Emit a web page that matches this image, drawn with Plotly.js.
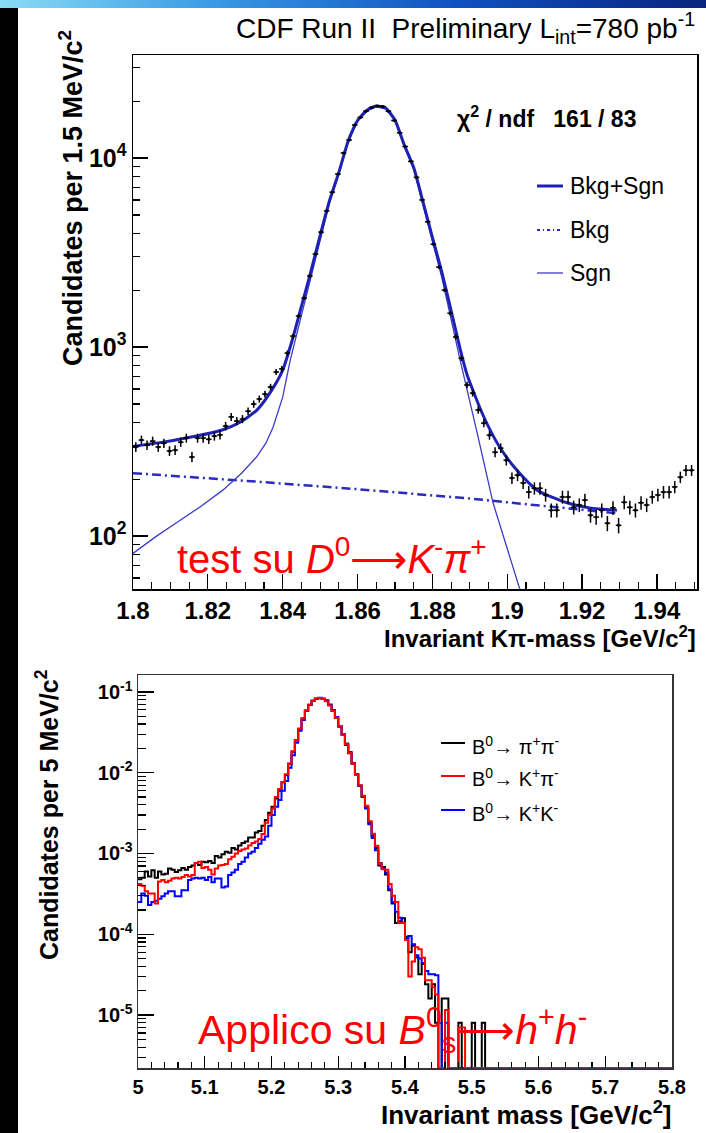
<!DOCTYPE html>
<html><head><meta charset="utf-8">
<script src="https://cdn.plot.ly/plotly-3.0.1.min.js"></script>
<style>
html,body{margin:0;padding:0;background:#fff;}
#wrap{position:relative;width:706px;height:1133px;overflow:hidden;}
#plot{position:absolute;left:0;top:0;width:706px;height:1133px;}
#leftbar{position:absolute;left:0;top:0;width:18px;height:1133px;background:#000;z-index:5;}
#topbar{position:absolute;left:0;top:0;width:706px;height:8px;background:linear-gradient(to right,#8adcf4 0%,#3a9ae4 30%,#1050c0 65%,#08247e 100%);z-index:6;}
</style></head><body>
<div id="wrap"><div id="plot"></div><div id="leftbar"></div><div id="topbar"></div></div>
<script>
// ---------------- Top panel: D0 -> K pi invariant mass ----------------
const d0Start = 1.8, d0BinWidth = 0.0015;
const d0Counts = [
 296,322,303,318,296,310,282,285,314,330,
 262,330,330,325,338,343,382,427,406,416,
 458,499,531,564,614,738,766,929,1143,1459,
 1815,2376,3105,4055,5250,6600,8225,10630,12450,14950,
 16400,17700,18500,18850,18750,17700,15800,13600,11500,9600,
 7900,6000,4600,3500,2650,2000,1510,1130,872,630,
 571,465,396,342,278,292,252,203,210,191,
 171,179,179,165,137,137,161,161,142,146,
 155,129,126,137,117,141,114,151,142,137,
 150,146,161,165,171,171,182,205,223,223];
const fitX = [1.8,1.808,1.817,1.824,1.8286,1.8331,1.8366,1.840,1.8425,1.845,1.8475,1.85,1.8525,1.855,1.8575,1.86,1.8625,1.865,1.8675,1.87,1.8725,1.875,1.8775,1.88,1.8825,1.885,1.8875,1.8892,1.8935,1.898,1.9026,1.908,1.916,1.922,1.9293];
const fitTotal = [298,314,338,365,400,464,572,755,1080,1640,2500,3900,5950,8400,12300,15800,17900,18850,18400,15900,11700,8900,5850,3800,2500,1560,960,720,437,295,223,175,150,141,137];
const sgnX = [1.8,1.806,1.812,1.818,1.824,1.829,1.833,1.8355,1.8374,1.840,1.842,1.845,1.8475,1.85,1.8525,1.855,1.8575,1.86,1.8625,1.865,1.8675,1.87,1.8725,1.875,1.8775,1.88,1.8825,1.885,1.8874,1.8919,1.8962,1.9034];
const sgnY = [81,99,119,143,175,215,262,310,375,543,851,1460,2320,3720,5760,8220,12120,15620,17720,18670,18220,15720,11520,8720,5670,3630,2340,1400,853,356,150,52];
const bkgX = [1.8,1.83,1.86,1.89,1.9293];
const bkgY = [215,196,177,158,132];
const topXTickVals = [1.8,1.82,1.84,1.86,1.88,1.9,1.92,1.94];
const topXTickText = ['1.8','1.82','1.84','1.86','1.88','1.9','1.92','1.94'];
const topYTickVals = [100,1000,10000];
const topYTickText = ['10<sup>2</sup>','10<sup>3</sup>','10<sup>4</sup>'];

// ---------------- Bottom panel: B0 -> h+h- invariant mass ----------------
const bStart = 5.0, bBinWidth = 0.005;
const pipi = [
 4.8e-4,5.0e-4,6.0e-4,5.2e-4,6.2e-4,5.0e-4,6.0e-4,5.5e-4,5.6e-4,6.5e-4,
 6.3e-4,5.9e-4,6.2e-4,6.6e-4,6.3e-4,6.8e-4,7.1e-4,7.6e-4,7.2e-4,7.9e-4,
 7.8e-4,8.1e-4,7.6e-4,9.3e-4,8.9e-4,9.8e-4,1.05e-3,1.02e-3,1.17e-3,1.12e-3,
 1.26e-3,1.35e-3,1.41e-3,1.58e-3,1.58e-3,1.82e-3,1.9e-3,2.2e-3,2.6e-3,3.2e-3,
 3.8e-3,4.8e-3,6.0e-3,7.6e-3,9.3e-3,1.29e-2,1.82e-2,2.5e-2,3.5e-2,4.7e-2,
 5.9e-2,6.9e-2,7.8e-2,8.2e-2,8.4e-2,8.2e-2,7.8e-2,6.9e-2,5.8e-2,4.8e-2,
 3.7e-2,2.95e-2,2.2e-2,1.74e-2,1.29e-2,9.5e-3,6.9e-3,5.1e-3,3.8e-3,2.4e-3,
 1.66e-3,1.17e-3,7.1e-4,6.8e-4,5.5e-4,3.5e-4,2.4e-4,1.38e-4,1.45e-4,1.58e-4,
 9.3e-5,6.0e-5,7.2e-5,5.2e-5,3.2e-5,4.3e-5,2.4e-5,1.6e-5,2.4e-5,8e-6,
 0,1.6e-5,1.6e-5,0,0,0,8e-6,0,0,0,
 8e-6,0,0,8e-6,0,0,0,0,0,0,
 0,0,0,0,0,0,0,0,0,0, 0,0,0,0,0,0,0,0,0,0, 0,0,0,0,0,0,0,0,0,0,
 0,0,0,0,0,0,0,0,0,0, 0,0,0,0,0,0,0,0,0,0];
const kpi = [
 4.2e-4,4.0e-4,3.4e-4,3.2e-4,3.2e-4,2.4e-4,4.5e-4,4.7e-4,4.4e-4,4.6e-4,
 4.9e-4,5.0e-4,4.9e-4,5.1e-4,5.4e-4,5.2e-4,5.4e-4,7.6e-4,7.9e-4,6.6e-4,
 6.8e-4,6.3e-4,5.5e-4,6.5e-4,7.1e-4,7.2e-4,7.4e-4,8.5e-4,9.1e-4,1.0e-3,
 1.07e-3,1.12e-3,1.15e-3,1.26e-3,1.35e-3,1.41e-3,1.51e-3,1.74e-3,2.4e-3,3.0e-3,
 3.6e-3,5.0e-3,6.3e-3,7.6e-3,9.6e-3,1.3e-2,1.85e-2,2.55e-2,3.5e-2,4.7e-2,
 5.9e-2,7.0e-2,7.8e-2,8.3e-2,8.4e-2,8.2e-2,7.7e-2,6.8e-2,5.8e-2,4.8e-2,
 3.8e-2,2.95e-2,2.25e-2,1.75e-2,1.3e-2,9.4e-3,7.0e-3,5.2e-3,3.9e-3,2.5e-3,
 1.75e-3,1.25e-3,7.5e-4,6.4e-4,6.3e-4,4.2e-4,3.0e-4,2.5e-4,1.38e-4,1.38e-4,
 8.5e-5,3.0e-5,4.6e-5,6.9e-5,6.5e-5,5.1e-5,2.7e-5,2.7e-5,2.2e-5,1.8e-5,
 0,0,1.15e-5,0,0,0,7e-6,7e-6,0,0,
 0,0,0,0,0,0,0,0,0,0,
 0,0,0,0,0,0,0,0,0,0, 0,0,0,0,0,0,0,0,0,0, 0,0,0,0,0,0,0,0,0,0,
 0,0,0,0,0,0,0,0,0,0, 0,0,0,0,0,0,0,0,0,0];
const kk = [
 2.5e-4,3.2e-4,3.0e-4,2.3e-4,2.5e-4,2.6e-4,2.75e-4,2.95e-4,3.2e-4,3.4e-4,
 3.4e-4,2.95e-4,2.95e-4,3.5e-4,3.5e-4,4.7e-4,4.9e-4,5.0e-4,4.9e-4,5.0e-4,
 4.7e-4,5.1e-4,4.4e-4,4.9e-4,4.9e-4,3.8e-4,3.9e-4,5.4e-4,5.8e-4,6.3e-4,
 7.4e-4,7.9e-4,8.9e-4,1.0e-3,1.05e-3,1.17e-3,1.32e-3,1.48e-3,1.62e-3,2.2e-3,
 3.0e-3,3.8e-3,4.6e-3,6.0e-3,7.9e-3,1.15e-2,1.65e-2,2.35e-2,3.3e-2,4.5e-2,
 5.8e-2,6.9e-2,7.8e-2,8.3e-2,8.5e-2,8.3e-2,7.9e-2,7.0e-2,6.0e-2,4.9e-2,
 3.8e-2,3.0e-2,2.3e-2,1.8e-2,1.32e-2,9.6e-3,6.9e-3,5.0e-3,3.6e-3,2.3e-3,
 1.55e-3,1.1e-3,7.6e-4,6.6e-4,5.8e-4,3.6e-4,2.5e-4,1.9e-4,1.6e-4,1.4e-4,
 9.0e-5,9.5e-5,7.5e-5,5.5e-5,5.0e-5,4.4e-5,3.5e-5,3.2e-5,3.2e-5,3.1e-5,
 8e-6,0,8e-6,0,0,0,0,0,0,0,
 0,0,0,0,0,0,0,0,0,0,
 0,0,0,0,0,0,0,0,0,0, 0,0,0,0,0,0,0,0,0,0, 0,0,0,0,0,0,0,0,0,0,
 0,0,0,0,0,0,0,0,0,0, 0,0,0,0,0,0,0,0,0,0];
const botXTickVals = [5,5.1,5.2,5.3,5.4,5.5,5.6,5.7,5.8];
const botXTickText = ['5','5.1','5.2','5.3','5.4','5.5','5.6','5.7','5.8'];
const botYTickVals = [1e-5,1e-4,1e-3,1e-2,1e-1];
const botYTickText = ['10<sup>-5</sup>','10<sup>-4</sup>','10<sup>-3</sup>','10<sup>-2</sup>','10<sup>-1</sup>'];
const seriesNames = ['B<sup>0</sup>→ π<sup>+</sup>π<sup>-</sup>','B<sup>0</sup>→ K<sup>+</sup>π<sup>-</sup>','B<sup>0</sup>→ K<sup>+</sup>K<sup>-</sup>'];

// ---------------- helpers ----------------
const W = 706, H = 1133;
const px = x => x / W, py = y => 1 - y / H;
const topYRange = [1.72, 4.545];
const botYRange = [-5.656, -0.79];
const FONT = 'Liberation Sans, Arial, Helvetica, sans-serif';

const d0X = d0Counts.map((_, i) => d0Start + d0BinWidth * (i + 0.5));
const d0Err = d0Counts.map(v => Math.sqrt(v));

function minorLog(lo, hi) {
  const out = [];
  for (let e = Math.floor(lo); e <= Math.ceil(hi); e++)
    for (let m = 2; m <= 9; m++) { const v = m * Math.pow(10, e); if (Math.log10(v) > lo && Math.log10(v) < hi) out.push(v); }
  return out;
}
function histTrace(vals, color, name) {
  const floor = Math.pow(10, botYRange[0]);
  const x = [], y = [];
  vals.forEach((v, i) => { x.push(bStart + bBinWidth * i); y.push(v > 0 ? v : floor); });
  x.push(bStart + bBinWidth * vals.length); y.push(y[y.length - 1]);
  return {x, y, xaxis: 'x2', yaxis: 'y2', mode: 'lines', line: {shape: 'hv', color, width: 2}, name, showlegend: false, hoverinfo: 'skip'};
}

const blueFit = '#1e22b4';
const traces = [
  {x: bkgX, y: bkgY, mode: 'lines', name: 'Bkg', line: {color: '#2a2ac0', width: 2.5, dash: '9px,4px,2px,4px'}, showlegend: false},
  {x: sgnX, y: sgnY, mode: 'lines', name: 'Sgn', line: {color: '#3c3cc8', width: 1.3}, showlegend: false},
  {x: fitX, y: fitTotal, mode: 'lines', name: 'Bkg+Sgn', line: {color: blueFit, width: 3, shape: 'spline', smoothing: 0.6}, showlegend: false},
  {x: d0X, y: d0Counts, mode: 'markers', name: 'Data', marker: {color: '#000', size: 3},
   error_y: {type: 'data', array: d0Err, width: 0, thickness: 1.5, color: '#000'},
   error_x: {type: 'constant', value: d0BinWidth / 2, width: 0, thickness: 1.5, color: '#000'}, showlegend: false},
  histTrace(pipi, '#000000', seriesNames[0]),
  histTrace(kk, '#0000ff', seriesNames[2]),
  histTrace(kpi, '#ff0000', seriesNames[1])
];

const tickFontTop = {family: FONT, size: 24, color: '#000', weight: 'bold'};
const tickFontBot = {family: FONT, size: 20, color: '#000', weight: 'bold'};
const axisCommon = {showgrid: false, zeroline: false, showline: true, mirror: true, linecolor: '#000', linewidth: 1.5, ticks: 'inside', tickcolor: '#000', tickwidth: 1.2};

const layout = {
  width: W, height: H, margin: {l: 0, r: 0, t: 0, b: 0},
  paper_bgcolor: '#fff', plot_bgcolor: '#fff', showlegend: false,
  font: {family: FONT, color: '#000'},
  xaxis: Object.assign({}, axisCommon, {domain: [px(133), px(697)], anchor: 'y', range: [1.8, 1.9507],
    tickmode: 'array', tickvals: topXTickVals, ticktext: topXTickText, ticklen: 15, tickfont: tickFontTop,
    minor: {tickmode: 'linear', tick0: 1.8, dtick: 0.005, ticks: 'inside', ticklen: 7, tickcolor: '#000', tickwidth: 1.2}}),
  yaxis: Object.assign({}, axisCommon, {domain: [py(589), py(55)], anchor: 'x', type: 'log', range: topYRange,
    tickmode: 'array', tickvals: topYTickVals, ticktext: topYTickText, ticklen: 15, tickfont: {family: FONT, size: 25, color: '#000', weight: 'bold'},
    minor: {tickmode: 'array', tickvals: minorLog(topYRange[0], topYRange[1]), ticks: 'inside', ticklen: 7, tickcolor: '#000', tickwidth: 1.2}}),
  xaxis2: Object.assign({}, axisCommon, {domain: [px(138), px(672)], anchor: 'y2', range: [5, 5.8], linecolor: '#333',
    tickmode: 'array', tickvals: botXTickVals, ticktext: botXTickText, ticklen: 12, tickfont: tickFontBot,
    minor: {tickmode: 'linear', tick0: 5, dtick: 0.02, ticks: 'inside', ticklen: 6, tickcolor: '#000', tickwidth: 1.2}}),
  yaxis2: Object.assign({}, axisCommon, {domain: [py(1068), py(675)], anchor: 'x2', type: 'log', range: botYRange, linecolor: '#333',
    tickmode: 'array', tickvals: botYTickVals, ticktext: botYTickText, ticklen: 16, tickfont: tickFontBot,
    minor: {tickmode: 'array', tickvals: minorLog(botYRange[0], botYRange[1]), ticks: 'inside', ticklen: 8, tickcolor: '#000', tickwidth: 1.2}}),
  shapes: [
    {type: 'line', xref: 'paper', yref: 'paper', x0: px(537), x1: px(563), y0: py(186), y1: py(186), line: {color: blueFit, width: 3}},
    {type: 'line', xref: 'paper', yref: 'paper', x0: px(537), x1: px(563), y0: py(230), y1: py(230), line: {color: '#2a2ac0', width: 2, dash: '3px,3px,1px,3px'}},
    {type: 'line', xref: 'paper', yref: 'paper', x0: px(537), x1: px(563), y0: py(273), y1: py(273), line: {color: '#3c3cc8', width: 1.3}},
    {type: 'line', xref: 'paper', yref: 'paper', x0: px(441), x1: px(465), y0: py(743), y1: py(743), line: {color: '#000', width: 2}},
    {type: 'line', xref: 'paper', yref: 'paper', x0: px(441), x1: px(465), y0: py(776), y1: py(776), line: {color: '#ff0000', width: 2}},
    {type: 'line', xref: 'paper', yref: 'paper', x0: px(441), x1: px(465), y0: py(810), y1: py(810), line: {color: '#0000ff', width: 2}}
  ],
  annotations: [
    {text: 'CDF Run II&nbsp; Preliminary L<sub>int</sub>=780 pb<sup>-1</sup>', x: px(697), y: py(28), xanchor: 'right', yanchor: 'middle', font: {size: 28}},
    {text: 'χ<sup>2</sup> / ndf&nbsp;&nbsp; 161 / 83', x: px(455), y: py(117), xanchor: 'left', yanchor: 'middle', font: {size: 23, weight: 'bold'}},
    {text: 'Bkg+Sgn', x: px(568), y: py(186), xanchor: 'left', yanchor: 'middle', font: {size: 23}},
    {text: 'Bkg', x: px(568), y: py(230), xanchor: 'left', yanchor: 'middle', font: {size: 23}},
    {text: 'Sgn', x: px(568), y: py(273), xanchor: 'left', yanchor: 'middle', font: {size: 23}},
    {text: 'Candidates per 1.5 MeV/c<sup>2</sup>', x: px(71), y: py(198), xanchor: 'center', yanchor: 'middle', textangle: -90, font: {size: 27, weight: 'bold'}},
    {text: 'Invariant Kπ-mass [GeV/c<sup>2</sup>]', x: px(698), y: py(637), xanchor: 'right', yanchor: 'middle', font: {size: 24, weight: 'bold'}},
    {text: 'test su <i>D</i><sup>0</sup>⟶<i>K</i><sup>-</sup><i>π</i><sup>+</sup>', x: px(175), y: py(556), xanchor: 'left', yanchor: 'middle', font: {size: 40, color: '#ff0000'}},
    {text: 'Candidates per 5 MeV/c<sup>2</sup>', x: px(47), y: py(815), xanchor: 'center', yanchor: 'middle', textangle: -90, font: {size: 25, weight: 'bold'}},
    {text: 'Invariant mass [GeV/c<sup>2</sup>]', x: px(673), y: py(1113), xanchor: 'right', yanchor: 'middle', font: {size: 26, weight: 'bold'}},
    {text: seriesNames[0], x: px(470), y: py(745), xanchor: 'left', yanchor: 'middle', font: {size: 20}},
    {text: seriesNames[1], x: px(470), y: py(778), xanchor: 'left', yanchor: 'middle', font: {size: 20}},
    {text: seriesNames[2], x: px(470), y: py(812), xanchor: 'left', yanchor: 'middle', font: {size: 20}},
    {text: 'Applico su <i>B</i><sup>0</sup><sub>s</sub>⟶<i>h</i><sup>+</sup><i>h</i><sup>-</sup>', x: px(196), y: py(1030), xanchor: 'left', yanchor: 'middle', font: {size: 41, color: '#ff0000'}}
  ].map(a => Object.assign({xref: 'paper', yref: 'paper', showarrow: false}, a))
};

Plotly.newPlot('plot', traces, layout, {staticPlot: true, displayModeBar: false});
</script></body></html>
